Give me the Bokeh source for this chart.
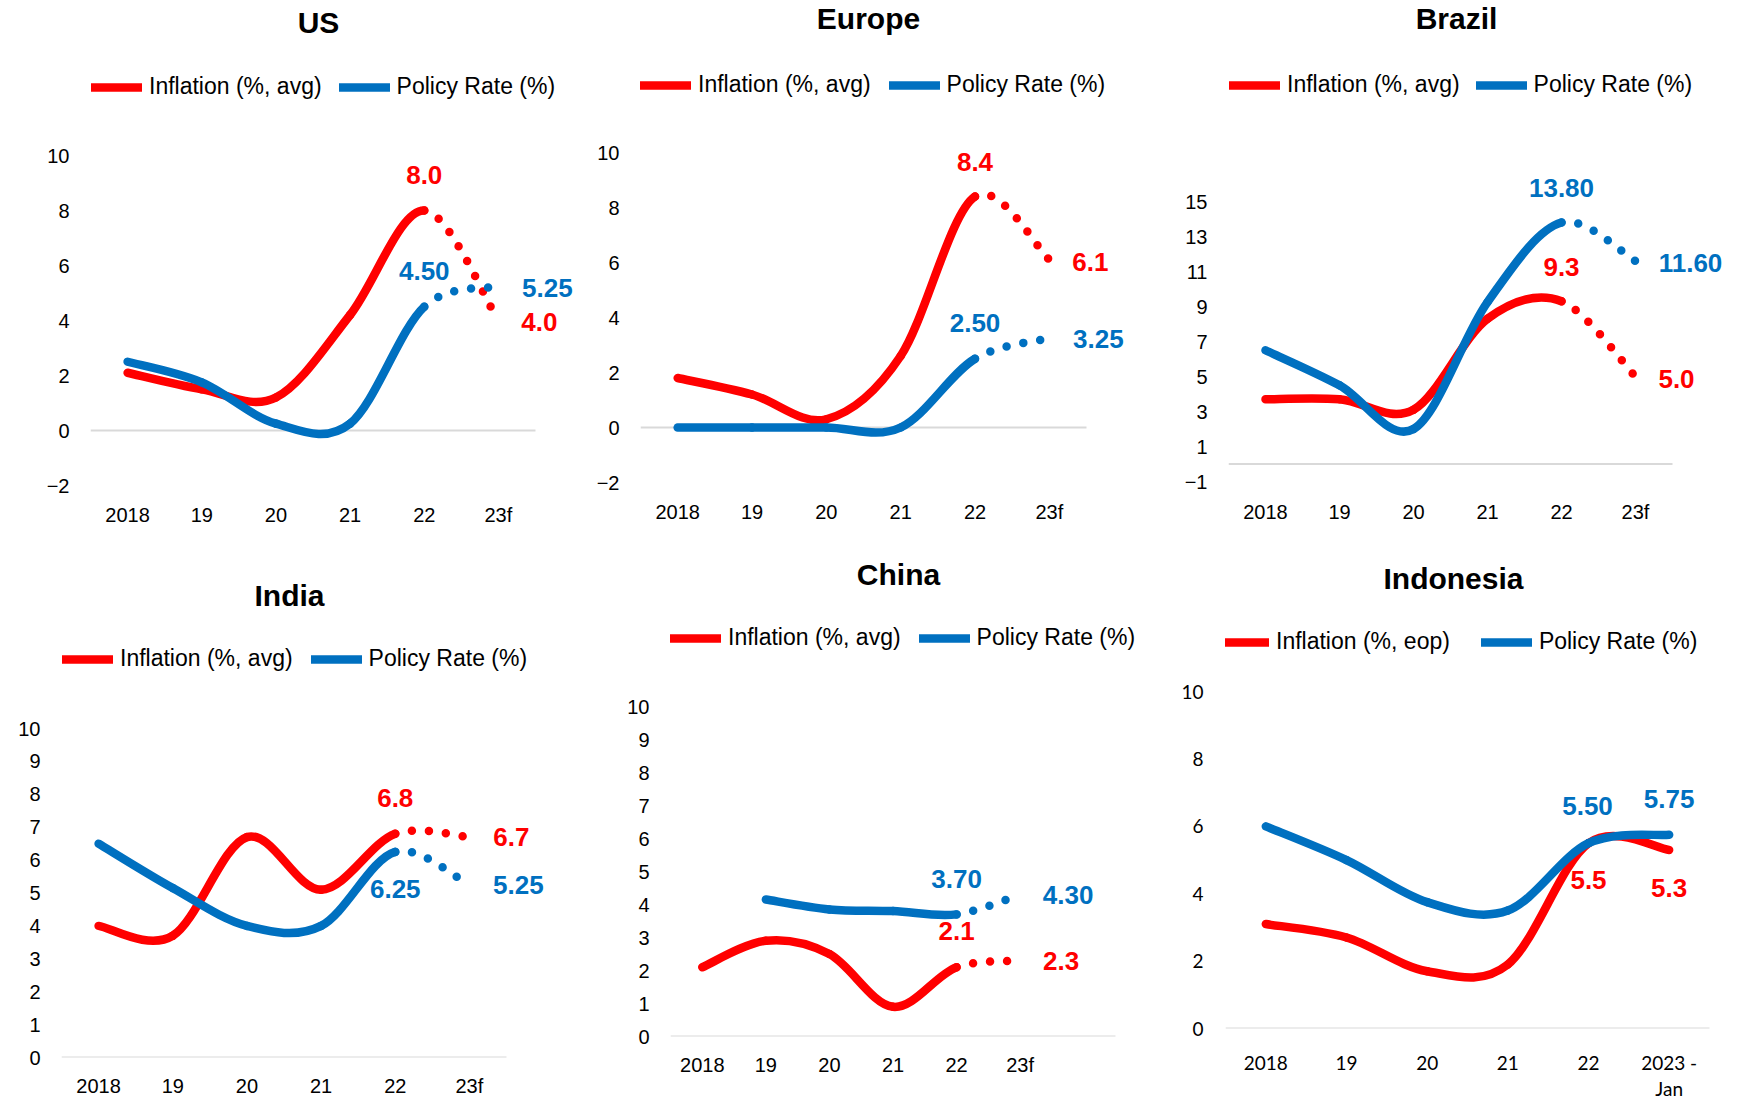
from bokeh.plotting import figure
from bokeh.layouts import row, column
from bokeh.models import (Plot, Range1d, FixedTicker, Label, Legend, LegendItem,
                          ColumnDataSource)
from bokeh.embed import file_html
from bokeh.resources import INLINE

RED = "#FF0000"
BLUE = "#0070C0"
SANS = "Liberation Sans"
ROUND = "Lato"

# ---- data -------------------------------------------------------------
years = ["2018", "19", "20", "21", "22", "23f"]
years_id = ["2018", "19", "20", "21", "22", "2023 -\nJan"]

us_inflation = [2.1, 1.5, 1.2, 4.2, 8.0, 4.0]
us_policy = [2.5, 1.75, 0.25, 0.25, 4.50, 5.25]

eu_inflation = [1.8, 1.2, 0.3, 2.6, 8.4, 6.1]
eu_policy = [0.0, 0.0, 0.0, 0.0, 2.50, 3.25]

br_inflation = [3.7, 3.7, 3.1, 8.3, 9.3, 5.0]
br_policy = [6.5, 4.5, 2.0, 9.25, 13.80, 11.60]

in_inflation = [4.0, 3.7, 6.7, 5.1, 6.8, 6.7]
in_policy = [6.5, 5.15, 4.0, 4.0, 6.25, 5.25]

cn_inflation = [2.1, 2.9, 2.5, 0.9, 2.1, 2.3]
cn_policy = [None, 4.15, 3.85, 3.80, 3.70, 4.30]

id_inflation = [3.1, 2.7, 1.7, 1.9, 5.5, 5.3]
id_policy = [6.0, 5.0, 3.75, 3.5, 5.50, 5.75]

# ---- panel layout / styling ------------------------------------------
# box = (left, right, top, bottom) pixel edges of the category/value area;
# fb = frame bottom shared by a row when plot frames get aligned;
# title / legend / xlab positions are panel pixels (legend: x of the first
# glyph and y of the row centre, xlab: centre of the category labels)
PANELS = [
    dict(name="US", inf=us_inflation, pol=us_policy, cats=years, nslots=6,
         forecast=True, inf_label="Inflation (%, avg)",
         W=580, H=540, box=(90, 535, 155, 485), fb=486,
         yr=(-2, 10), yticks=[-2, 0, 2, 4, 6, 8, 10],
         title=(318, 22), legend=(91, 86), legend_spacing=17, xlab=514,
         labels=[("inf", 4, 0, 36), ("pol", 4, 0, 36), ("pol", 5, 49, -2), ("inf", 5, 41, -1)],
         ystand=21, tfont=SANS, tsize="20px", k=11),
    dict(name="Europe", inf=eu_inflation, pol=eu_policy, cats=years, nslots=6,
         forecast=True, inf_label="Inflation (%, avg)",
         W=580, H=540, box=(60, 506, 152, 482), fb=486,
         yr=(-2, 10), yticks=[-2, 0, 2, 4, 6, 8, 10],
         title=(288, 18), legend=(60, 84), legend_spacing=18, xlab=511,
         labels=[("inf", 4, 0, 35), ("inf", 5, 41, -2), ("pol", 4, 0, 36), ("pol", 5, 49, -1)],
         ystand=21, tfont=SANS, tsize="20px", k=11),
    dict(name="Brazil", inf=br_inflation, pol=br_policy, cats=years, nslots=6,
         forecast=True, inf_label="Inflation (%, avg)",
         W=582, H=540, box=(68, 512, 201, 481), fb=486,
         yr=(-1, 15), yticks=[-1, 1, 3, 5, 7, 9, 11, 13, 15],
         title=(296, 18), legend=(69, 84), legend_spacing=16, xlab=511,
         labels=[("pol", 4, 0, 35), ("pol", 5, 55, -2), ("inf", 4, 0, 34), ("inf", 5, 41, -2)],
         ystand=21, tfont=SANS, tsize="20px", k=11),
    dict(name="India", inf=in_inflation, pol=in_policy, cats=years, nslots=6,
         forecast=True, inf_label="Inflation (%, avg)",
         W=580, H=562, box=(61, 506, 188, 517), fb=517,
         yr=(0, 10), yticks=list(range(0, 11)),
         title=(289, 55), legend=(62, 118), legend_spacing=18, xlab=545,
         labels=[("inf", 4, 0, 36), ("inf", 5, 42, 0), ("pol", 4, 0, -37), ("pol", 5, 49, 0)],
         ystand=21, tfont=SANS, tsize="20px", k=11),
    dict(name="China", inf=cn_inflation, pol=cn_policy, cats=years, nslots=7,
         forecast=True, inf_label="Inflation (%, avg)",
         W=580, H=562, box=(90, 535, 166, 496), fb=517,
         yr=(0, 10), yticks=list(range(0, 11)),
         title=(318, 34), legend=(90, 97), legend_spacing=18, xlab=524,
         labels=[("pol", 4, 0, 35), ("pol", 5, 48, 0), ("inf", 4, 0, 36), ("inf", 5, 41, 0)],
         ystand=21, tfont=SANS, tsize="20px", k=11),
    dict(name="Indonesia", inf=id_inflation, pol=id_policy, cats=years_id, nslots=6,
         forecast=False, inf_label="Inflation (%, eop)",
         W=582, H=562, box=(65, 549, 152, 491), fb=517,
         yr=(0, 10), yticks=[0, 2, 4, 6, 8, 10],
         title=(293, 41), legend=(58, 104), legend_spacing=31, xlab=522,
         labels=[("pol", 4, -1, 37), ("pol", 5, 0, 36), ("inf", 4, 0, -37), ("inf", 5, 0, -38)],
         ystand=22, tfont=ROUND, tsize="19px", k=9.5),
]

KEYS = ["x0", "y0", "x1", "y1", "cx0", "cy0", "cx1", "cy1"]
LINE_W = 8.5
# plots placed side by side get their frames aligned unless switched off
CAN_UNALIGN = "frame_align" in Plot.properties()


def smooth_segments(values):
    """Cubic Bezier pieces through the points (Catmull-Rom style smoothing)."""
    pts = [(i, v) for i, v in enumerate(values) if v is not None]
    segs = []
    for i in range(len(pts) - 1):
        (x0, y0), (x1, y1) = pts[i], pts[i + 1]
        xp, yp = pts[i - 1] if i > 0 else pts[i]
        xn, yn = pts[i + 2] if i + 2 < len(pts) else pts[i + 1]
        segs.append(dict(x0=x0, y0=y0, x1=x1, y1=y1,
                         cx0=x0 + (x1 - xp) / 6, cy0=y0 + (y1 - yp) / 6,
                         cx1=x1 - (xn - x0) / 6, cy1=y1 - (yn - y0) / 6))
    return segs


def draw_series(p, values, color, forecast):
    """Solid smoothed line for actuals, round-dotted piece for the forecast."""
    segs = smooth_segments(values)
    n_solid = len(segs) - 1 if forecast else len(segs)
    solid = None
    for part, dash in ((segs[:n_solid], "solid"), (segs[n_solid:], "0 17")):
        if not part:
            continue
        src = ColumnDataSource({k: [s[k] for s in part] for k in KEYS})
        r = p.bezier(x0="x0", y0="y0", x1="x1", y1="y1", cx0="cx0", cy0="cy0",
                     cx1="cx1", cy1="cy1", source=src, line_color=color,
                     line_width=LINE_W, line_cap="round", line_dash=dash)
        if solid is None:
            solid = r
    return solid


def make_panel(c):
    L, R, T, B = c["box"]
    fb = B if CAN_UNALIGN else c["fb"]
    ymin, ymax = c["yr"]
    n = c["nslots"]
    # the frame fills the panel above and right of the axes so that titles,
    # legends and value labels are drawn inside it
    px_x = (R - L) / n
    px_y = (B - T) / (ymax - ymin)
    p = figure(width=c["W"], height=c["H"],
               x_range=Range1d(-0.5, -0.5 + (c["W"] - L) / px_x),
               y_range=Range1d(ymin - (fb - B) / px_y, ymin + B / px_y),
               output_backend="svg", toolbar_location=None,
               min_border_top=0, min_border_right=0,
               min_border_bottom=c["H"] - fb, min_border_left=L)
    if CAN_UNALIGN:
        p.frame_align = False
    p.outline_line_color = None
    p.background_fill_color = "white"
    p.border_fill_color = "white"
    p.xgrid.visible = False
    p.ygrid.visible = False

    for ax in (p.xaxis[0], p.yaxis[0]):
        ax.axis_line_color = None
        ax.major_tick_line_color = None
        ax.minor_tick_line_color = None
        ax.major_tick_out = 0
        ax.major_tick_in = 0
        ax.major_label_text_font = c["tfont"]
        ax.major_label_text_font_size = c["tsize"]
        ax.major_label_text_color = "black"
    p.yaxis.ticker = FixedTicker(ticks=c["yticks"])
    p.yaxis.major_label_standoff = c["ystand"]
    cats = c["cats"]
    p.xaxis.ticker = FixedTicker(ticks=list(range(len(cats))))
    p.xaxis.major_label_overrides = {i: t for i, t in enumerate(cats)}
    p.xaxis.major_label_standoff = int(round(c["xlab"] - fb - c["k"]))
    p.xaxis.major_label_text_line_height = 1.15

    # horizontal axis line at zero across the category slots
    p.segment(x0=[-0.5], y0=[0], x1=[n - 0.5], y1=[0],
              line_color="#D9D9D9", line_width=2)

    r_inf = draw_series(p, c["inf"], RED, c["forecast"])
    r_pol = draw_series(p, c["pol"], BLUE, c["forecast"])

    series = {"inf": (c["inf"], RED, "{:.1f}"), "pol": (c["pol"], BLUE, "{:.2f}")}
    for key, i, dx, dy in c["labels"]:
        vals, color, fmt = series[key]
        p.add_layout(Label(x=i, y=vals[i], x_offset=dx, y_offset=dy,
                           text=fmt.format(vals[i]), text_color=color,
                           text_font=SANS, text_font_style="bold",
                           text_font_size="26px", text_align="center",
                           text_baseline="middle"))

    tx, ty = c["title"]
    p.add_layout(Label(x=tx - L, y=fb - ty, x_units="screen", y_units="screen",
                       text=c["name"], text_font=SANS, text_font_style="bold",
                       text_font_size="30px", text_color="black",
                       text_align="center", text_baseline="middle"))

    lx, ly = c["legend"]
    legend = Legend(items=[LegendItem(label=c["inf_label"], renderers=[r_inf]),
                           LegendItem(label="Policy Rate (%)", renderers=[r_pol])],
                    location=(lx - L, fb - ly - 14), orientation="horizontal",
                    glyph_width=51, glyph_height=20, label_standoff=7,
                    spacing=c["legend_spacing"], padding=0, margin=0,
                    border_line_color=None, background_fill_alpha=0,
                    label_text_font=SANS, label_text_font_size="23px",
                    label_text_color="black")
    p.add_layout(legend)
    return p


panels = [make_panel(c) for c in PANELS]
page = column(row(*panels[:3]), row(*panels[3:]))

with open("out.html", "w") as f:
    f.write(file_html(page, INLINE))
